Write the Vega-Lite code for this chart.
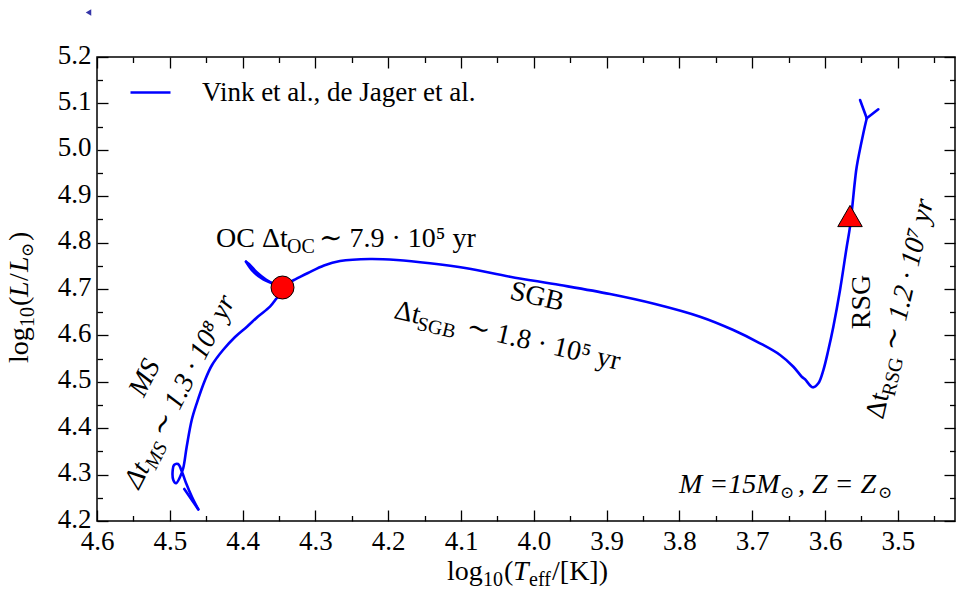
{
  "$schema": "https://vega.github.io/schema/vega-lite/v6.json",
  "width": 858,
  "height": 464,
  "autosize": {"type": "none"},
  "padding": {"left": 97, "top": 57, "right": 1, "bottom": 73},
  "config": {
    "font": "Liberation Serif",
    "view": {"stroke": "black", "strokeWidth": 1.5},
    "axis": {"domain": false, "grid": false, "tickColor": "black", "tickWidth": 1.3, "labelFont": "Liberation Serif", "labelFontSize": 27, "labelColor": "black", "titleFont": "Liberation Serif", "titleFontSize": 28, "titleFontWeight": "normal", "titleColor": "black", "labelOverlap": false, "labelFlush": false},
    "text": {"font": "Liberation Serif, DejaVu Serif", "fontSize": 28, "color": "black", "baseline": "alphabetic", "align": "left"}
  },
  "resolve": {"axis": {"x": "independent", "y": "independent"}},
  "layer": [
    {
      "data": {"values": [
        {"seg": "A", "i": 1, "x": 4.4801, "y": 4.2690, "track": "Vink et al., de Jager et al."},
        {"seg": "A", "i": 2, "x": 4.4609, "y": 4.2252, "track": "Vink et al., de Jager et al."},
        {"seg": "B", "i": 2, "x": 4.4609, "y": 4.2252, "track": "Vink et al., de Jager et al."},
        {"seg": "B", "i": 3, "x": 4.4695, "y": 4.2517, "track": "Vink et al., de Jager et al."},
        {"seg": "B", "i": 4, "x": 4.4777, "y": 4.2819, "track": "Vink et al., de Jager et al."},
        {"seg": "B", "i": 5, "x": 4.4832, "y": 4.3056, "track": "Vink et al., de Jager et al."},
        {"seg": "B", "i": 6, "x": 4.4887, "y": 4.3228, "track": "Vink et al., de Jager et al."},
        {"seg": "B", "i": 7, "x": 4.4942, "y": 4.3207, "track": "Vink et al., de Jager et al."},
        {"seg": "B", "i": 8, "x": 4.4960, "y": 4.3099, "track": "Vink et al., de Jager et al."},
        {"seg": "B", "i": 9, "x": 4.4952, "y": 4.2884, "track": "Vink et al., de Jager et al."},
        {"seg": "B", "i": 10, "x": 4.4915, "y": 4.2813, "track": "Vink et al., de Jager et al."},
        {"seg": "B", "i": 11, "x": 4.4860, "y": 4.2948, "track": "Vink et al., de Jager et al."},
        {"seg": "B", "i": 12, "x": 4.4815, "y": 4.3142, "track": "Vink et al., de Jager et al."},
        {"seg": "B", "i": 13, "x": 4.4768, "y": 4.3601, "track": "Vink et al., de Jager et al."},
        {"seg": "B", "i": 14, "x": 4.4699, "y": 4.4177, "track": "Vink et al., de Jager et al."},
        {"seg": "B", "i": 15, "x": 4.4630, "y": 4.4537, "track": "Vink et al., de Jager et al."},
        {"seg": "B", "i": 16, "x": 4.4516, "y": 4.5039, "track": "Vink et al., de Jager et al."},
        {"seg": "B", "i": 17, "x": 4.4420, "y": 4.5362, "track": "Vink et al., de Jager et al."},
        {"seg": "B", "i": 18, "x": 4.4269, "y": 4.5685, "track": "Vink et al., de Jager et al."},
        {"seg": "B", "i": 19, "x": 4.4104, "y": 4.5966, "track": "Vink et al., de Jager et al."},
        {"seg": "B", "i": 20, "x": 4.3940, "y": 4.6188, "track": "Vink et al., de Jager et al."},
        {"seg": "B", "i": 21, "x": 4.3788, "y": 4.6407, "track": "Vink et al., de Jager et al."},
        {"seg": "B", "i": 22, "x": 4.3624, "y": 4.6619, "track": "Vink et al., de Jager et al."},
        {"seg": "B", "i": 23, "x": 4.3541, "y": 4.6784, "track": "Vink et al., de Jager et al."},
        {"seg": "B", "i": 24, "x": 4.3459, "y": 4.6978, "track": "Vink et al., de Jager et al."},
        {"seg": "B", "i": 25, "x": 4.3596, "y": 4.7123, "track": "Vink et al., de Jager et al."},
        {"seg": "B", "i": 26, "x": 4.3716, "y": 4.7209, "track": "Vink et al., de Jager et al."},
        {"seg": "B", "i": 27, "x": 4.3853, "y": 4.7373, "track": "Vink et al., de Jager et al."},
        {"seg": "B", "i": 28, "x": 4.3953, "y": 4.7588, "track": "Vink et al., de Jager et al."},
        {"seg": "C", "i": 28, "x": 4.3953, "y": 4.7588, "track": "Vink et al., de Jager et al."},
        {"seg": "C", "i": 29, "x": 4.3912, "y": 4.7539, "track": "Vink et al., de Jager et al."},
        {"seg": "C", "i": 30, "x": 4.3802, "y": 4.7356, "track": "Vink et al., de Jager et al."},
        {"seg": "C", "i": 31, "x": 4.3679, "y": 4.7205, "track": "Vink et al., de Jager et al."},
        {"seg": "C", "i": 32, "x": 4.3541, "y": 4.7097, "track": "Vink et al., de Jager et al."},
        {"seg": "C", "i": 33, "x": 4.3445, "y": 4.7085, "track": "Vink et al., de Jager et al."},
        {"seg": "C", "i": 34, "x": 4.3321, "y": 4.7172, "track": "Vink et al., de Jager et al."},
        {"seg": "C", "i": 35, "x": 4.3102, "y": 4.7345, "track": "Vink et al., de Jager et al."},
        {"seg": "C", "i": 36, "x": 4.2882, "y": 4.7507, "track": "Vink et al., de Jager et al."},
        {"seg": "C", "i": 37, "x": 4.2662, "y": 4.7603, "track": "Vink et al., de Jager et al."},
        {"seg": "C", "i": 38, "x": 4.2250, "y": 4.7647, "track": "Vink et al., de Jager et al."},
        {"seg": "C", "i": 39, "x": 4.1883, "y": 4.7625, "track": "Vink et al., de Jager et al."},
        {"seg": "C", "i": 40, "x": 4.1426, "y": 4.7554, "track": "Vink et al., de Jager et al."},
        {"seg": "C", "i": 41, "x": 4.0922, "y": 4.7446, "track": "Vink et al., de Jager et al."},
        {"seg": "C", "i": 42, "x": 4.0327, "y": 4.7265, "track": "Vink et al., de Jager et al."},
        {"seg": "C", "i": 43, "x": 3.9640, "y": 4.7086, "track": "Vink et al., de Jager et al."},
        {"seg": "C", "i": 44, "x": 3.8953, "y": 4.6892, "track": "Vink et al., de Jager et al."},
        {"seg": "C", "i": 45, "x": 3.8335, "y": 4.6677, "track": "Vink et al., de Jager et al."},
        {"seg": "C", "i": 46, "x": 3.7717, "y": 4.6403, "track": "Vink et al., de Jager et al."},
        {"seg": "C", "i": 47, "x": 3.7260, "y": 4.6116, "track": "Vink et al., de Jager et al."},
        {"seg": "C", "i": 48, "x": 3.6893, "y": 4.5830, "track": "Vink et al., de Jager et al."},
        {"seg": "C", "i": 49, "x": 3.6618, "y": 4.5578, "track": "Vink et al., de Jager et al."},
        {"seg": "C", "i": 50, "x": 3.6435, "y": 4.5325, "track": "Vink et al., de Jager et al."},
        {"seg": "C", "i": 51, "x": 3.6320, "y": 4.5110, "track": "Vink et al., de Jager et al."},
        {"seg": "C", "i": 52, "x": 3.6275, "y": 4.5054, "track": "Vink et al., de Jager et al."},
        {"seg": "C", "i": 53, "x": 3.6169, "y": 4.4881, "track": "Vink et al., de Jager et al."},
        {"seg": "C", "i": 54, "x": 3.6092, "y": 4.4968, "track": "Vink et al., de Jager et al."},
        {"seg": "C", "i": 55, "x": 3.6023, "y": 4.5254, "track": "Vink et al., de Jager et al."},
        {"seg": "C", "i": 56, "x": 3.5955, "y": 4.5685, "track": "Vink et al., de Jager et al."},
        {"seg": "C", "i": 57, "x": 3.5886, "y": 4.6188, "track": "Vink et al., de Jager et al."},
        {"seg": "C", "i": 58, "x": 3.5794, "y": 4.6978, "track": "Vink et al., de Jager et al."},
        {"seg": "C", "i": 59, "x": 3.5702, "y": 4.7912, "track": "Vink et al., de Jager et al."},
        {"seg": "C", "i": 60, "x": 3.5657, "y": 4.8343, "track": "Vink et al., de Jager et al."},
        {"seg": "C", "i": 61, "x": 3.5588, "y": 4.9349, "track": "Vink et al., de Jager et al."},
        {"seg": "C", "i": 62, "x": 3.5565, "y": 4.9636, "track": "Vink et al., de Jager et al."},
        {"seg": "C", "i": 63, "x": 3.5474, "y": 5.0356, "track": "Vink et al., de Jager et al."},
        {"seg": "C", "i": 64, "x": 3.5427, "y": 5.0679, "track": "Vink et al., de Jager et al."},
        {"seg": "D", "i": 64, "x": 3.5427, "y": 5.0679, "track": "Vink et al., de Jager et al."},
        {"seg": "D", "i": 65, "x": 3.5519, "y": 5.1073, "track": "Vink et al., de Jager et al."},
        {"seg": "E", "i": 66, "x": 3.5427, "y": 5.0679, "track": "Vink et al., de Jager et al."},
        {"seg": "E", "i": 67, "x": 3.5268, "y": 5.0873, "track": "Vink et al., de Jager et al."}
      ]},
      "mark": {"type": "line", "strokeWidth": 2.6, "strokeJoin": "round", "strokeCap": "round", "interpolate": "catmull-rom"},
      "encoding": {
        "x": {"field": "x", "type": "quantitative", "scale": {"domain": [3.4215, 4.6], "reverse": true, "nice": false, "zero": false},
          "axis": {"orient": "bottom", "values": [4.6, 4.5, 4.4, 4.3, 4.2, 4.1, 4.0, 3.9, 3.8, 3.7, 3.6, 3.5], "format": ".1f", "tickSize": -11, "labelPadding": 18, "title": null}},
        "y": {"field": "y", "type": "quantitative", "scale": {"domain": [4.2, 5.2], "nice": false, "zero": false},
          "axis": {"orient": "left", "values": [4.2, 4.3, 4.4, 4.5, 4.6, 4.7, 4.8, 4.9, 5.0, 5.1, 5.2], "format": ".1f", "tickSize": -11, "labelPadding": 17, "labelOffset": -2, "title": null}},
        "detail": {"field": "seg", "type": "nominal"},
        "order": {"field": "i", "type": "quantitative"},
        "color": {"field": "track", "type": "nominal", "scale": {"range": ["#0000ff"]},
          "legend": {"orient": "none", "legendX": 32, "legendY": 14, "title": null, "symbolType": "stroke", "symbolSize": 1600, "symbolStrokeWidth": 2.6, "labelFont": "Liberation Serif", "labelFontSize": 27, "labelColor": "black", "labelOffset": 30, "labelLimit": 600, "padding": 0}}
      }
    },
    {
      "data": {"values": [{"x": 4.3452, "y": 4.7032}]},
      "mark": {"type": "point", "shape": "circle", "filled": true, "size": 529, "color": "#ff0000", "stroke": "black", "strokeWidth": 1, "opacity": 1},
      "encoding": {
        "x": {"field": "x", "type": "quantitative", "axis": {"orient": "bottom", "values": [4.55, 4.45, 4.35, 4.25, 4.15, 4.05, 3.95, 3.85, 3.75, 3.65, 3.55, 3.45], "tickSize": -5.5, "labels": false, "title": null}},
        "y": {"field": "y", "type": "quantitative", "axis": {"orient": "left", "values": [4.25, 4.35, 4.45, 4.55, 4.65, 4.75, 4.85, 4.95, 5.05, 5.15], "tickSize": -5.5, "labels": false, "title": null}}
      }
    },
    {
      "data": {"values": [{"x": 3.5657, "y": 4.8573}]},
      "mark": {"type": "point", "shape": "triangle-up", "filled": true, "size": 600, "color": "#ff0000", "stroke": "black", "strokeWidth": 1, "opacity": 1},
      "encoding": {
        "x": {"field": "x", "type": "quantitative", "axis": {"orient": "top", "values": [4.6, 4.5, 4.4, 4.3, 4.2, 4.1, 4.0, 3.9, 3.8, 3.7, 3.6, 3.5], "tickSize": -11, "labels": false, "title": null}},
        "y": {"field": "y", "type": "quantitative", "axis": {"orient": "right", "values": [4.2, 4.3, 4.4, 4.5, 4.6, 4.7, 4.8, 4.9, 5.0, 5.1, 5.2], "tickSize": -11, "labels": false, "title": null}}
      }
    },
    {
      "data": {"values": [{"x": 4.6117, "y": 5.2959}]},
      "mark": {"type": "point", "shape": "triangle-left", "filled": true, "size": 40, "color": "#3535a8", "opacity": 1},
      "encoding": {
        "x": {"field": "x", "type": "quantitative", "axis": {"orient": "top", "values": [4.55, 4.45, 4.35, 4.25, 4.15, 4.05, 3.95, 3.85, 3.75, 3.65, 3.55, 3.45], "tickSize": -5.5, "labels": false, "title": null}},
        "y": {"field": "y", "type": "quantitative", "axis": {"orient": "right", "values": [4.25, 4.35, 4.45, 4.55, 4.65, 4.75, 4.85, 4.95, 5.05, 5.15], "tickSize": -5.5, "labels": false, "title": null}}
      }
    },
    {
      "data": {"values": [{"x": 4.4365, "y": 4.7905, "t": "OC Δt"}]},
      "mark": {"type": "text"},
      "encoding": {"x": {"field": "x", "type": "quantitative", "axis": null}, "y": {"field": "y", "type": "quantitative", "axis": null}, "text": {"field": "t"}}
    },
    {
      "data": {"values": [{"x": 4.4365, "y": 4.7905, "t": "OC"}]},
      "mark": {"type": "text", "fontSize": 20, "dx": 71, "dy": 6},
      "encoding": {"x": {"field": "x", "type": "quantitative", "axis": null}, "y": {"field": "y", "type": "quantitative", "axis": null}, "text": {"field": "t"}}
    },
    {
      "data": {"values": [{"x": 4.4365, "y": 4.7905, "t": "∼ 7.9 · 10⁵ yr"}]},
      "mark": {"type": "text", "dx": 103},
      "encoding": {"x": {"field": "x", "type": "quantitative", "axis": null}, "y": {"field": "y", "type": "quantitative", "axis": null}, "text": {"field": "t"}}
    },
    {
      "data": {"values": [{"x": 3.9956, "y": 4.6828, "t": "SGB"}]},
      "mark": {"type": "text", "angle": 13, "align": "center", "baseline": "middle"},
      "encoding": {"x": {"field": "x", "type": "quantitative", "axis": null}, "y": {"field": "y", "type": "quantitative", "axis": null}, "text": {"field": "t"}}
    },
    {
      "data": {"values": [{"x": 4.1934, "y": 4.6375, "t": "Δt"}]},
      "mark": {"type": "text", "angle": 13},
      "encoding": {"x": {"field": "x", "type": "quantitative", "axis": null}, "y": {"field": "y", "type": "quantitative", "axis": null}, "text": {"field": "t"}}
    },
    {
      "data": {"values": [{"x": 4.1934, "y": 4.6375, "t": "SGB"}]},
      "mark": {"type": "text", "angle": 13, "fontSize": 20, "dx": 25, "dy": 6},
      "encoding": {"x": {"field": "x", "type": "quantitative", "axis": null}, "y": {"field": "y", "type": "quantitative", "axis": null}, "text": {"field": "t"}}
    },
    {
      "data": {"values": [{"x": 4.1934, "y": 4.6375, "t": "∼ 1.8 · 10⁵ yr"}]},
      "mark": {"type": "text", "angle": 13, "dx": 74},
      "encoding": {"x": {"field": "x", "type": "quantitative", "axis": null}, "y": {"field": "y", "type": "quantitative", "axis": null}, "text": {"field": "t"}}
    },
    {
      "data": {"values": [{"x": 4.5341, "y": 4.5082, "t": "MS"}]},
      "mark": {"type": "text", "angle": -63, "align": "center", "baseline": "middle", "fontStyle": "italic"},
      "encoding": {"x": {"field": "x", "type": "quantitative", "axis": null}, "y": {"field": "y", "type": "quantitative", "axis": null}, "text": {"field": "t"}}
    },
    {
      "data": {"values": [{"x": 4.5423, "y": 4.2668, "t": "Δt"}]},
      "mark": {"type": "text", "angle": -63, "fontStyle": "italic"},
      "encoding": {"x": {"field": "x", "type": "quantitative", "axis": null}, "y": {"field": "y", "type": "quantitative", "axis": null}, "text": {"field": "t"}}
    },
    {
      "data": {"values": [{"x": 4.5423, "y": 4.2668, "t": "MS"}]},
      "mark": {"type": "text", "angle": -63, "fontSize": 20, "dx": 25, "dy": 6, "fontStyle": "italic"},
      "encoding": {"x": {"field": "x", "type": "quantitative", "axis": null}, "y": {"field": "y", "type": "quantitative", "axis": null}, "text": {"field": "t"}}
    },
    {
      "data": {"values": [{"x": 4.5423, "y": 4.2668, "t": "∼ 1.3 · 10⁸ yr"}]},
      "mark": {"type": "text", "angle": -63, "dx": 58, "fontStyle": "italic"},
      "encoding": {"x": {"field": "x", "type": "quantitative", "axis": null}, "y": {"field": "y", "type": "quantitative", "axis": null}, "text": {"field": "t"}}
    },
    {
      "data": {"values": [{"x": 3.5492, "y": 4.6720, "t": "RSG"}]},
      "mark": {"type": "text", "angle": -90, "align": "center", "baseline": "middle"},
      "encoding": {"x": {"field": "x", "type": "quantitative", "axis": null}, "y": {"field": "y", "type": "quantitative", "axis": null}, "text": {"field": "t"}}
    },
    {
      "data": {"values": [{"x": 3.5203, "y": 4.4177, "t": "Δt"}]},
      "mark": {"type": "text", "angle": -77},
      "encoding": {"x": {"field": "x", "type": "quantitative", "axis": null}, "y": {"field": "y", "type": "quantitative", "axis": null}, "text": {"field": "t"}}
    },
    {
      "data": {"values": [{"x": 3.5203, "y": 4.4177, "t": "RSG"}]},
      "mark": {"type": "text", "angle": -77, "fontSize": 20, "dx": 25, "dy": 6},
      "encoding": {"x": {"field": "x", "type": "quantitative", "axis": null}, "y": {"field": "y", "type": "quantitative", "axis": null}, "text": {"field": "t"}}
    },
    {
      "data": {"values": [{"x": 3.5203, "y": 4.4177, "t": "∼ 1.2 · 10⁷ yr"}]},
      "mark": {"type": "text", "angle": -77, "dx": 70, "fontStyle": "italic"},
      "encoding": {"x": {"field": "x", "type": "quantitative", "axis": null}, "y": {"field": "y", "type": "quantitative", "axis": null}, "text": {"field": "t"}}
    },
    {
      "data": {"values": [{"x": 3.8006, "y": 4.2603, "t": "M =15M"}]},
      "mark": {"type": "text", "fontStyle": "italic"},
      "encoding": {"x": {"field": "x", "type": "quantitative", "axis": null}, "y": {"field": "y", "type": "quantitative", "axis": null}, "text": {"field": "t"}}
    },
    {
      "data": {"values": [{"x": 3.8006, "y": 4.2603, "t": "⊙"}]},
      "mark": {"type": "text", "fontSize": 17, "dx": 101, "dy": 5},
      "encoding": {"x": {"field": "x", "type": "quantitative", "axis": null}, "y": {"field": "y", "type": "quantitative", "axis": null}, "text": {"field": "t"}}
    },
    {
      "data": {"values": [{"x": 3.8006, "y": 4.2603, "t": ", Z = Z"}]},
      "mark": {"type": "text", "fontStyle": "italic", "dx": 119},
      "encoding": {"x": {"field": "x", "type": "quantitative", "axis": null}, "y": {"field": "y", "type": "quantitative", "axis": null}, "text": {"field": "t"}}
    },
    {
      "data": {"values": [{"x": 3.8006, "y": 4.2603, "t": "⊙"}]},
      "mark": {"type": "text", "fontSize": 17, "dx": 199, "dy": 5},
      "encoding": {"x": {"field": "x", "type": "quantitative", "axis": null}, "y": {"field": "y", "type": "quantitative", "axis": null}, "text": {"field": "t"}}
    },
    {
      "data": {"values": [{"x": 4.1192, "y": 4.0728, "t": "log"}]},
      "mark": {"type": "text"},
      "encoding": {"x": {"field": "x", "type": "quantitative", "axis": null}, "y": {"field": "y", "type": "quantitative", "axis": null}, "text": {"field": "t"}}
    },
    {
      "data": {"values": [{"x": 4.1192, "y": 4.0728, "t": "10"}]},
      "mark": {"type": "text", "fontSize": 20, "dx": 36, "dy": 6},
      "encoding": {"x": {"field": "x", "type": "quantitative", "axis": null}, "y": {"field": "y", "type": "quantitative", "axis": null}, "text": {"field": "t"}}
    },
    {
      "data": {"values": [{"x": 4.1192, "y": 4.0728, "t": "("}]},
      "mark": {"type": "text", "dx": 57},
      "encoding": {"x": {"field": "x", "type": "quantitative", "axis": null}, "y": {"field": "y", "type": "quantitative", "axis": null}, "text": {"field": "t"}}
    },
    {
      "data": {"values": [{"x": 4.1192, "y": 4.0728, "t": "T"}]},
      "mark": {"type": "text", "dx": 66, "fontStyle": "italic"},
      "encoding": {"x": {"field": "x", "type": "quantitative", "axis": null}, "y": {"field": "y", "type": "quantitative", "axis": null}, "text": {"field": "t"}}
    },
    {
      "data": {"values": [{"x": 4.1192, "y": 4.0728, "t": "eff"}]},
      "mark": {"type": "text", "fontSize": 20, "dx": 82, "dy": 6},
      "encoding": {"x": {"field": "x", "type": "quantitative", "axis": null}, "y": {"field": "y", "type": "quantitative", "axis": null}, "text": {"field": "t"}}
    },
    {
      "data": {"values": [{"x": 4.1192, "y": 4.0728, "t": "/[K])"}]},
      "mark": {"type": "text", "dx": 105},
      "encoding": {"x": {"field": "x", "type": "quantitative", "axis": null}, "y": {"field": "y", "type": "quantitative", "axis": null}, "text": {"field": "t"}}
    },
    {
      "data": {"values": [{"x": 4.6948, "y": 4.5405, "t": "log"}]},
      "mark": {"type": "text", "angle": -90},
      "encoding": {"x": {"field": "x", "type": "quantitative", "axis": null}, "y": {"field": "y", "type": "quantitative", "axis": null}, "text": {"field": "t"}}
    },
    {
      "data": {"values": [{"x": 4.6948, "y": 4.5405, "t": "10"}]},
      "mark": {"type": "text", "angle": -90, "fontSize": 20, "dx": 36, "dy": 6},
      "encoding": {"x": {"field": "x", "type": "quantitative", "axis": null}, "y": {"field": "y", "type": "quantitative", "axis": null}, "text": {"field": "t"}}
    },
    {
      "data": {"values": [{"x": 4.6948, "y": 4.5405, "t": "("}]},
      "mark": {"type": "text", "angle": -90, "dx": 57},
      "encoding": {"x": {"field": "x", "type": "quantitative", "axis": null}, "y": {"field": "y", "type": "quantitative", "axis": null}, "text": {"field": "t"}}
    },
    {
      "data": {"values": [{"x": 4.6948, "y": 4.5405, "t": "L"}]},
      "mark": {"type": "text", "angle": -90, "dx": 66, "fontStyle": "italic"},
      "encoding": {"x": {"field": "x", "type": "quantitative", "axis": null}, "y": {"field": "y", "type": "quantitative", "axis": null}, "text": {"field": "t"}}
    },
    {
      "data": {"values": [{"x": 4.6948, "y": 4.5405, "t": "/"}]},
      "mark": {"type": "text", "angle": -90, "dx": 82},
      "encoding": {"x": {"field": "x", "type": "quantitative", "axis": null}, "y": {"field": "y", "type": "quantitative", "axis": null}, "text": {"field": "t"}}
    },
    {
      "data": {"values": [{"x": 4.6948, "y": 4.5405, "t": "L"}]},
      "mark": {"type": "text", "angle": -90, "dx": 91, "fontStyle": "italic"},
      "encoding": {"x": {"field": "x", "type": "quantitative", "axis": null}, "y": {"field": "y", "type": "quantitative", "axis": null}, "text": {"field": "t"}}
    },
    {
      "data": {"values": [{"x": 4.6948, "y": 4.5405, "t": "⊙"}]},
      "mark": {"type": "text", "angle": -90, "fontSize": 17, "dx": 106, "dy": 5},
      "encoding": {"x": {"field": "x", "type": "quantitative", "axis": null}, "y": {"field": "y", "type": "quantitative", "axis": null}, "text": {"field": "t"}}
    },
    {
      "data": {"values": [{"x": 4.6948, "y": 4.5405, "t": ")"}]},
      "mark": {"type": "text", "angle": -90, "dx": 122},
      "encoding": {"x": {"field": "x", "type": "quantitative", "axis": null}, "y": {"field": "y", "type": "quantitative", "axis": null}, "text": {"field": "t"}}
    }
  ]
}
